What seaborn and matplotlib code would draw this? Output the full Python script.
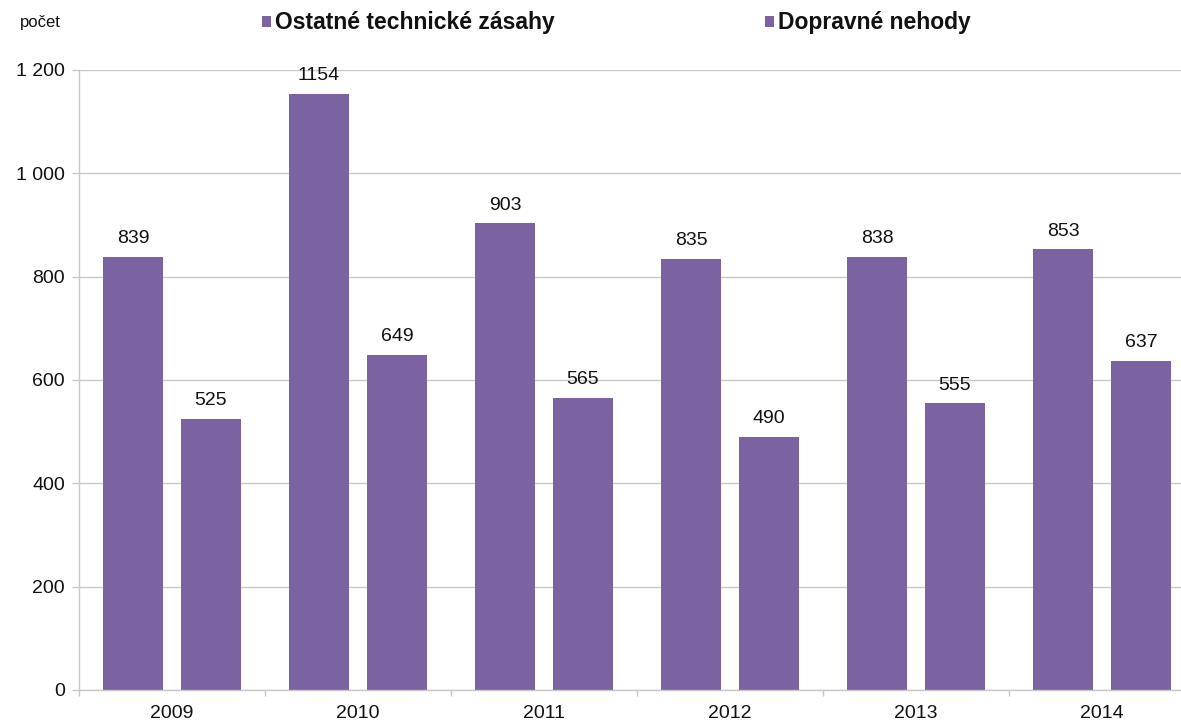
import matplotlib
matplotlib.use('Agg')
import matplotlib.pyplot as plt
import seaborn as sns
import pandas as pd
from matplotlib.patches import Patch

years = ['2009', '2010', '2011', '2012', '2013', '2014']
series_names = ['Ostatné technické zásahy', 'Dopravné nehody']
ostatne = [839, 1154, 903, 835, 838, 853]
dopravne = [525, 649, 565, 490, 555, 637]
yticks = [0, 200, 400, 600, 800, 1000, 1200]
ytick_labels = ['0', '200', '400', '600', '800', '1 000', '1 200']

COLOR = '#7B62A0'
GRID = '#c8c8c8'
TXT = '#111111'

sns.set_theme(style='white')
plt.rcParams['font.family'] = ['Liberation Sans', 'DejaVu Sans']

df = pd.DataFrame({
    'rok': years * 2,
    'séria': [series_names[0]] * len(years) + [series_names[1]] * len(years),
    'počet': ostatne + dopravne,
})

W, H = 1181, 722
fig = plt.figure(figsize=(W / 100, H / 100), dpi=100)
ax = fig.add_axes([79 / W, 32 / H, 1116 / W, 620 / H])

sns.barplot(data=df, x='rok', y='počet', hue='séria', hue_order=series_names,
            palette=[COLOR, COLOR], width=0.839, gap=0.23, saturation=1,
            edgecolor='none', linewidth=0, legend=False, ax=ax, errorbar=None)

for c in ax.containers:
    ax.bar_label(c, fmt='%d', padding=7, fontsize=14, color=TXT)

ax.set_xlim(-0.5, len(years) - 0.5)
ax.set_ylim(0, 1200)
ax.set_yticks(yticks)
ax.set_yticklabels(ytick_labels)
ax.set_xlabel('')
ax.set_ylabel('')

ax.set_axisbelow(True)
ax.yaxis.grid(True, color=GRID, linewidth=1)
ax.xaxis.grid(False)
for s in ['top', 'right']:
    ax.spines[s].set_visible(False)
for s in ['left', 'bottom']:
    ax.spines[s].set_color(GRID)
    ax.spines[s].set_linewidth(1)

ax.tick_params(axis='y', which='major', left=True, length=5, width=1, color=GRID,
               direction='out', pad=5, labelsize=14, labelcolor=TXT)
ax.set_xticks([i - 0.5 for i in range(len(years) + 1)], minor=True)
ax.tick_params(axis='x', which='minor', bottom=True, length=4, width=1, color=GRID, direction='out')
ax.tick_params(axis='x', which='major', bottom=False, length=0, pad=11, labelsize=14, labelcolor=TXT)

fig.text(20 / W, 1 - 22 / H, 'počet', fontsize=12, va='center', ha='left', color=TXT)

handles = [Patch(facecolor=COLOR, edgecolor='none') for _ in series_names]
leg = fig.legend(handles, series_names, loc='center left',
                 bbox_to_anchor=(262 / W, 1 - 23 / H), ncol=2, frameon=False,
                 prop={'size': 16.5, 'weight': 'bold'},
                 handlelength=0.4, handleheight=0.4, handletextpad=0.15,
                 columnspacing=9.2, borderpad=0, borderaxespad=0)
for t in leg.get_texts():
    t.set_color(TXT)

fig.savefig('out.png', dpi=100)
